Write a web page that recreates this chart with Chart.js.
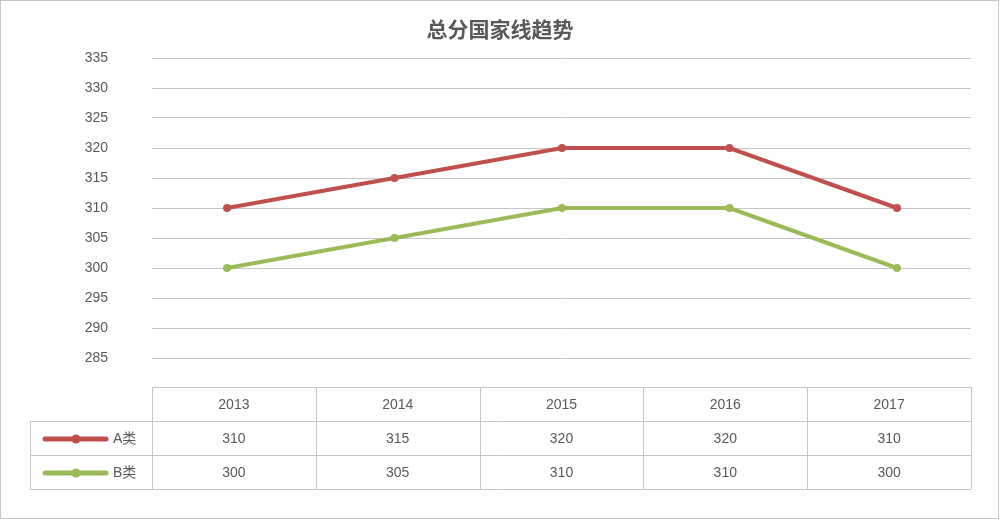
<!DOCTYPE html>
<html>
<head>
<meta charset="utf-8">
<script src="https://cdn.jsdelivr.net/npm/chart.js@4.4.1/dist/chart.umd.min.js"></script>
<style>
html,body{margin:0;padding:0;background:#fff;}
canvas{display:block;}
</style>
</head>
<body>
<canvas id="c" width="1000" height="520"></canvas>
<script>
const title = '总分国家线趋势';
const years = ['2013', '2014', '2015', '2016', '2017'];
const seriesNames = ['A类', 'B类'];
const seriesA = [310, 315, 320, 320, 310];
const seriesB = [300, 305, 310, 310, 300];
const colors = ['#C0504D', '#9BBB59'];
const yMin = 280, yMax = 335, yStep = 5;

const FONT = '"Liberation Sans", Arial, "Noto Sans CJK SC", sans-serif';
const TEXT = '#595959';
const LINE = '#c6c6c6';

const allSeries = [seriesA, seriesB];

const tablePlugin = {
  id: 'tablePlugin',
  afterDraw(chart) {
    const ctx = chart.ctx;
    const ca = chart.chartArea;
    const left = ca.left, right = ca.right;
    const top = Math.round(ca.bottom) - 1;
    const rowH = 34;
    const n = years.length;
    const colW = (right - left) / n;
    const legLeft = 30;
    ctx.save();
    // title
    ctx.fillStyle = TEXT;
    ctx.font = 'bold 21px "Noto Sans CJK SC", sans-serif';
    ctx.textAlign = 'center';
    ctx.textBaseline = 'middle';
    ctx.fillText(title, 500, 29);
    // outer border
    ctx.strokeStyle = LINE;
    ctx.lineWidth = 1;
    ctx.strokeRect(0.5, 0.5, 998, 518);
    // table lines
    ctx.beginPath();
    ctx.moveTo(left, top + 0.5); ctx.lineTo(right, top + 0.5);
    for (let r = 1; r <= 3; r++) {
      ctx.moveTo(legLeft, top + r * rowH + 0.5);
      ctx.lineTo(right, top + r * rowH + 0.5);
    }
    ctx.moveTo(legLeft + 0.5, top + rowH); ctx.lineTo(legLeft + 0.5, top + 3 * rowH);
    for (let i = 0; i <= n; i++) {
      const x = Math.round(left + i * colW) + 0.5;
      ctx.moveTo(x, top); ctx.lineTo(x, top + 3 * rowH);
    }
    ctx.stroke();
    // header text
    ctx.font = '14px ' + FONT;
    ctx.fillStyle = TEXT;
    ctx.textAlign = 'center';
    years.forEach((y, i) => {
      ctx.fillText(y, left + (i + 0.5) * colW, top + rowH / 2 + 1);
    });
    // rows
    allSeries.forEach((s, r) => {
      const cy = top + (r + 1.5) * rowH + 1;
      s.forEach((v, i) => {
        ctx.fillStyle = TEXT;
        ctx.textAlign = 'center';
        ctx.fillText(String(v), left + (i + 0.5) * colW, cy);
      });
      // legend key
      ctx.strokeStyle = colors[r];
      ctx.lineWidth = 5;
      ctx.lineCap = 'round';
      ctx.beginPath();
      ctx.moveTo(45, cy); ctx.lineTo(106, cy);
      ctx.stroke();
      ctx.fillStyle = colors[r];
      ctx.beginPath();
      ctx.arc(76, cy, 4.5, 0, Math.PI * 2);
      ctx.fill();
      ctx.fillStyle = TEXT;
      ctx.textAlign = 'left';
      ctx.fillText(seriesNames[r], 113, cy);
    });
    ctx.restore();
  }
};

new Chart(document.getElementById('c'), {
  type: 'line',
  data: {
    datasets: allSeries.map((s, k) => ({
      label: seriesNames[k],
      data: s.map((v, i) => ({ x: i, y: v })),
      borderColor: colors[k],
      backgroundColor: colors[k],
      borderWidth: 4,
      pointRadius: 4,
      pointBorderWidth: 0,
      pointBackgroundColor: colors[k],
      tension: 0,
      fill: false
    }))
  },
  options: {
    responsive: false,
    devicePixelRatio: 1,
    animation: false,
    layout: { padding: { top: 58, right: 29, bottom: 132, left: 0 } },
    plugins: {
      legend: { display: false },
      title: { display: false },
      tooltip: { enabled: false }
    },
    scales: {
      x: {
        type: 'linear',
        display: false,
        min: -0.448,
        max: 4.442
      },
      y: {
        min: yMin,
        max: yMax,
        afterFit: (s) => { s.width = 152; },
        border: { display: false },
        grid: {
          color: (c) => (c.tick && c.tick.value === yMin ? 'rgba(0,0,0,0)' : LINE),
          drawTicks: false,
          lineWidth: 1
        },
        ticks: {
          stepSize: yStep,
          padding: 44,
          color: TEXT,
          font: { size: 14, family: FONT },
          callback: (v) => (v === yMin ? '' : String(v))
        }
      }
    }
  },
  plugins: [tablePlugin]
});
</script>
</body>
</html>
